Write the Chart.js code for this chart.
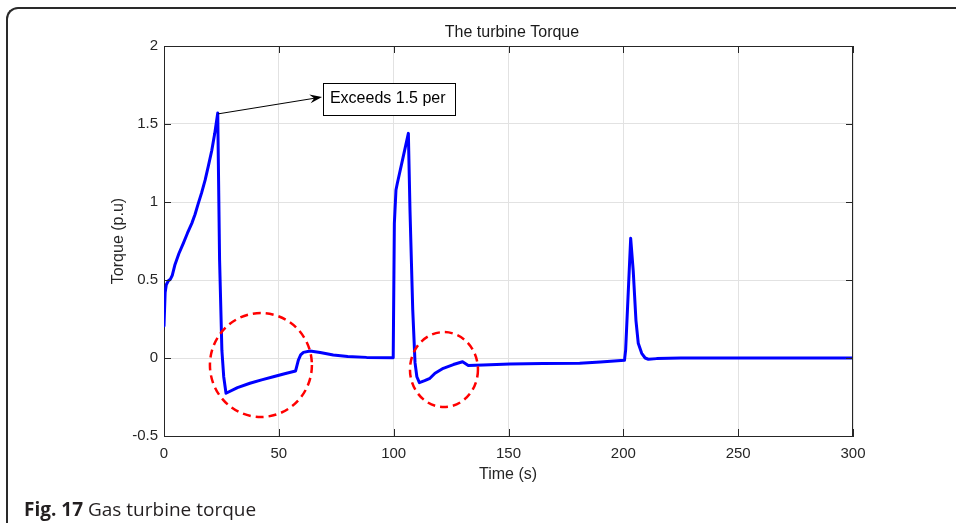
<!DOCTYPE html>
<html>
<head>
<meta charset="utf-8">
<script src="https://cdn.jsdelivr.net/npm/chart.js@4.4.0/dist/chart.umd.min.js"></script>
<style>
  html, body { margin: 0; padding: 0; background: #fff; overflow: hidden; }
  #wrap { position: relative; width: 956px; height: 523px; }
  #graph { position: absolute; left: 0; top: 0; }
  #frame {
    position: absolute; left: 6px; top: 7px; width: 1000px; height: 600px;
    border-top: 2px solid #2a2a2a; border-left: 2px solid #2a2a2a;
    border-top-left-radius: 12px; pointer-events: none;
  }
  #caption {
    position: absolute; left: 24px; top: 500px;
    font-family: "Open Sans", sans-serif; font-size: 19px; line-height: 19px;
    color: #231f20; white-space: nowrap;
  }
  #caption b { font-weight: 700; }
</style>
</head>
<body>
<div id="wrap">
  <canvas id="graph" width="956" height="523"></canvas>
  <div id="frame"></div>
  <div id="caption"><b>Fig. 17</b> Gas turbine torque</div>
</div>
<script>
// time axis (s) and torque (p.u)
var times = [0, 0.5, 1.0, 1.9, 2.8, 3.6, 4.8, 6.5, 8.4, 10.2, 12.1, 13.5, 14.9,
  16.4, 17.9, 19.3, 20.8, 22.1, 23.4,
  24.2, 25.2, 26.0, 27.0, 32, 37.4, 42.5, 47.6, 52.5, 57.3, 58.5, 59.5, 60.7, 63.6,
  68, 73.7, 80, 88.2, 99.8, 100.3, 101.0, 101.6, 104, 106.4, 107.1, 108.3,
  109.3, 110.1, 111.2, 113.5, 115.8, 118, 121.6, 126, 130, 132.5, 139, 150.6,
  165, 181, 190, 200.5, 201, 203.2, 204.3, 205.5, 206.5, 208, 209.5, 210.9, 214.5,
  225, 250, 275, 300];
var torque = [0.205, 0.42, 0.47, 0.495, 0.505, 0.53, 0.6, 0.67, 0.735, 0.8, 0.863, 0.92, 0.99,
  1.06, 1.14, 1.23, 1.33, 1.44, 1.57,
  0.63, 0.05, -0.12, -0.226, -0.19, -0.162, -0.14, -0.12, -0.101, -0.083, -0.013, 0.02, 0.036, 0.045,
  0.035, 0.019, 0.01, 0.004, 0.002, 0.863, 1.077, 1.12, 1.28, 1.44, 0.95, 0.31,
  -0.03, -0.12, -0.158, -0.145, -0.13, -0.098, -0.066, -0.042, -0.024, -0.048, -0.045, -0.038,
  -0.036, -0.034, -0.026, -0.015, 0.05, 0.767, 0.56, 0.24, 0.094, 0.03, 0.0, -0.008, -0.004,
  0, 0, 0, 0];

var xTicks = [0, 50, 100, 150, 200, 250, 300];
var yTicks = [-0.5, 0, 0.5, 1, 1.5, 2];

// red dashed rings: [centre t, centre y, radius t, radius y]
var rings = [[42.2, -0.045, 22.2, 0.333], [121.9, -0.074, 14.8, 0.24]];
// annotation: arrow from the peak to the text box
var noteText = 'Exceeds 1.5 per';
var noteFrom = [23.6, 1.565];
var noteTo = [68.8, 1.673];
var noteBox = [69.2, 1.763, 126.7, 1.558];

var points = times.map(function(t, i) { return { x: t, y: torque[i] }; });

var axisFont = { family: '"Liberation Sans", Arial, sans-serif', size: 15 };
var textColor = '#262626';

// draws the MATLAB style box, inner ticks, title, labels and notes
var extras = {
  id: 'extras',
  afterDraw: function(chart) {
    var c = chart.ctx, a = chart.chartArea;
    var xs = chart.scales.x, ys = chart.scales.y;
    c.save();
    c.strokeStyle = textColor;
    c.lineWidth = 1;
    c.beginPath();
    c.moveTo(a.left, a.top + 0.5); c.lineTo(a.right, a.top + 0.5);
    c.moveTo(a.right - 0.5, a.top); c.lineTo(a.right - 0.5, a.bottom);
    xTicks.forEach(function(v) {
      var px = Math.round(xs.getPixelForValue(v)) + 0.5;
      c.moveTo(px, a.bottom); c.lineTo(px, a.bottom - 7);
      c.moveTo(px, a.top); c.lineTo(px, a.top + 7);
    });
    yTicks.forEach(function(v) {
      var py = Math.round(ys.getPixelForValue(v)) + 0.5;
      c.moveTo(a.left, py); c.lineTo(a.left + 7, py);
      c.moveTo(a.right, py); c.lineTo(a.right - 7, py);
    });
    c.stroke();

    // titles
    c.fillStyle = '#1a1a1a';
    c.font = '16px "Liberation Sans", Arial, sans-serif';
    c.textAlign = 'center';
    c.textBaseline = 'middle';
    c.fillText('The turbine Torque', 512, 33);
    c.fillStyle = textColor;
    c.fillText('Time (s)', 508, 475);
    c.save();
    c.translate(119, (a.top + a.bottom) / 2);
    c.rotate(-Math.PI / 2);
    c.fillText('Torque (p.u)', 0, 0);
    c.restore();

    // dashed rings
    c.strokeStyle = '#ff0000';
    c.lineWidth = 2.5;
    c.setLineDash([8, 5]);
    rings.forEach(function(r) {
      var cx = xs.getPixelForValue(r[0]), cy = ys.getPixelForValue(r[1]);
      var rx = xs.getPixelForValue(r[0] + r[2]) - cx;
      var ry = cy - ys.getPixelForValue(r[1] + r[3]);
      c.beginPath();
      c.ellipse(cx, cy, rx, ry, 0, 0, Math.PI * 2);
      c.stroke();
    });
    c.setLineDash([]);

    // text box
    var bx1 = xs.getPixelForValue(noteBox[0]), by1 = ys.getPixelForValue(noteBox[1]);
    var bx2 = xs.getPixelForValue(noteBox[2]), by2 = ys.getPixelForValue(noteBox[3]);
    c.fillStyle = '#fff';
    c.fillRect(bx1, by1, bx2 - bx1, by2 - by1);
    c.strokeStyle = '#000';
    c.lineWidth = 1;
    c.strokeRect(Math.round(bx1) + 0.5, Math.round(by1) + 0.5, Math.round(bx2 - bx1), Math.round(by2 - by1));
    c.fillStyle = '#000';
    c.textAlign = 'left';
    c.fillText(noteText, bx1 + 7, (by1 + by2) / 2);

    // arrow
    var x0 = xs.getPixelForValue(noteFrom[0]), y0 = ys.getPixelForValue(noteFrom[1]);
    var x1 = xs.getPixelForValue(noteTo[0]), y1 = ys.getPixelForValue(noteTo[1]);
    var ang = Math.atan2(y1 - y0, x1 - x0);
    c.beginPath();
    c.moveTo(x0, y0); c.lineTo(x1 - 6 * Math.cos(ang), y1 - 6 * Math.sin(ang));
    c.stroke();
    c.beginPath();
    c.moveTo(x1, y1);
    c.lineTo(x1 - 13 * Math.cos(ang - 0.35), y1 - 13 * Math.sin(ang - 0.35));
    c.lineTo(x1 - 8 * Math.cos(ang), y1 - 8 * Math.sin(ang));
    c.lineTo(x1 - 13 * Math.cos(ang + 0.35), y1 - 13 * Math.sin(ang + 0.35));
    c.closePath();
    c.fill();
    c.restore();
  }
};

var ctx = document.getElementById('graph').getContext('2d');
var myChart = new Chart(ctx, {
  type: 'scatter',
  data: {
    datasets: [{
      data: points,
      showLine: true,
      borderColor: '#0000ff',
      borderWidth: 3,
      borderJoinStyle: 'round',
      borderCapStyle: 'round',
      pointRadius: 0,
      fill: false,
      tension: 0
    }]
  },
  options: {
    responsive: false,
    animation: false,
    devicePixelRatio: 1,
    layout: { padding: { left: 0, top: 46, right: 103, bottom: 0 } },
    plugins: { legend: { display: false }, tooltip: { enabled: false } },
    scales: {
      x: {
        type: 'linear', min: 0, max: 300,
        afterFit: function(s) { s.height = 87; },
        afterBuildTicks: function(s) { s.ticks = xTicks.map(function(v) { return { value: v }; }); },
        grid: { color: '#e2e2e2', drawTicks: false },
        border: { color: textColor, width: 1 },
        ticks: { padding: 9, color: textColor, font: axisFont, maxRotation: 0,
          callback: function(v) { return String(v); } }
      },
      y: {
        type: 'linear', min: -0.5, max: 2,
        afterFit: function(s) { s.width = 164; },
        afterBuildTicks: function(s) { s.ticks = yTicks.map(function(v) { return { value: v }; }); },
        grid: { color: '#e2e2e2', drawTicks: false },
        border: { color: textColor, width: 1 },
        ticks: { padding: 6, color: textColor, font: axisFont,
          callback: function(v) { return String(v); } }
      }
    }
  },
  plugins: [extras]
});
</script>
</body>
</html>
